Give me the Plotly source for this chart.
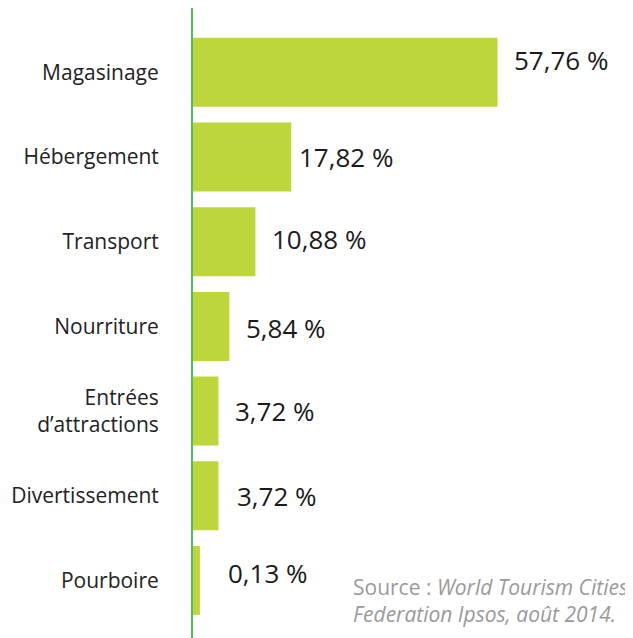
import plotly.graph_objects as go

# Dépenses des touristes par poste (%)
categories = ["Magasinage", "Hébergement", "Transport", "Nourriture",
              "Entrées<br>d’attractions", "Divertissement", "Pourboire"]
values = [57.76, 17.82, 10.88, 5.84, 3.72, 3.72, 0.13]
value_labels = ["57,76 %", "17,82 %", "10,88 %", "5,84 %", "3,72 %", "3,72 %", "0,13 %"]

BAR_COLOR = "#bcd63c"
AXIS_COLOR = "#5cb85c"
AXIS_START = -1.2  # the green axis sits slightly left of zero

# small hand nudges of the value labels, as in the original layout
label_dx = [15, 6, 15, 15, 15, 17, 26]
label_dy = [12, 0, 3, -2, 0, 0, 7]

fig = go.Figure(go.Bar(
    y=categories,
    x=[v - AXIS_START for v in values],
    base=AXIS_START,
    orientation="h",
    marker=dict(color=BAR_COLOR, line=dict(width=0)),
    width=0.815,
    hoverinfo="skip",
))

for cat, v, lab, dx, dy in zip(categories, values, value_labels, label_dx, label_dy):
    fig.add_annotation(x=v, y=cat, text=lab, showarrow=False,
                       xanchor="left", yanchor="middle", xshift=dx, yshift=dy,
                       font=dict(family="Open Sans", size=26, color="#1a1a1a"))

fig.add_annotation(
    xref="paper", yref="paper", x=0.36, y=0.106, xanchor="left", yanchor="top",
    text="Source : <i>World Tourism Cities</i><br><i>Federation Ipsos, août 2014.</i>",
    showarrow=False, align="left",
    font=dict(family="Open Sans", size=21, color="#9a9a9a"),
)

# page body has an 8px margin, so the figure is a bit smaller than the window
fig.update_layout(
    width=625, height=630,
    margin=dict(l=185, r=0, t=0, b=0),
    paper_bgcolor="white", plot_bgcolor="white",
    showlegend=False,
    font=dict(family="Open Sans", color="#222222"),
)
fig.update_xaxes(range=[AXIS_START, 84], visible=False, automargin=False)
fig.update_yaxes(
    range=[6.68, -0.76], automargin=False,
    showline=True, linecolor=AXIS_COLOR, linewidth=2,
    showgrid=False, zeroline=False, ticks="",
    ticklabelstandoff=28,
    tickfont=dict(family="Open Sans", size=21, color="#222222"),
)

fig.write_html("out.html")
